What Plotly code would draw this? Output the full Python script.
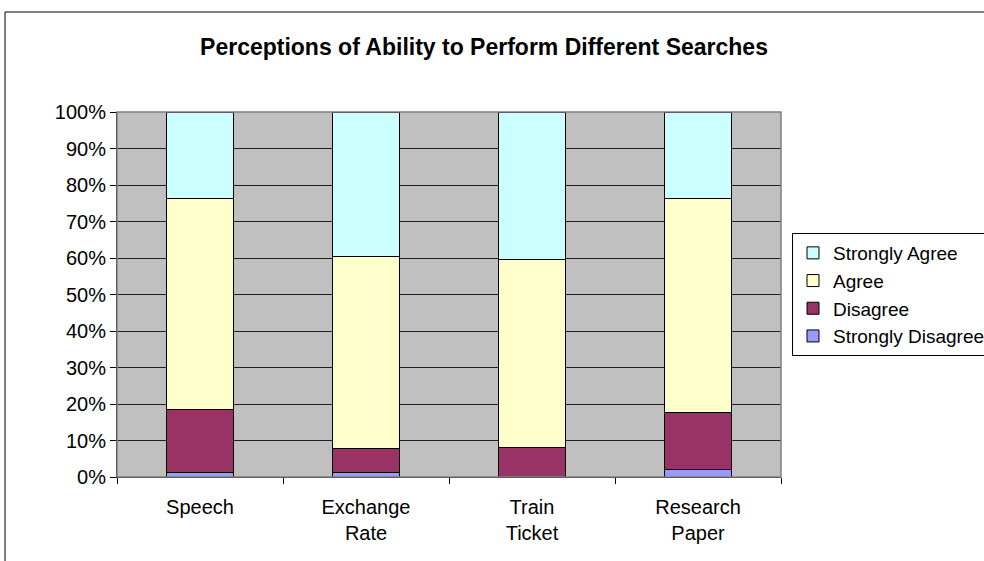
import plotly.graph_objects as go

categories = ["Speech", "Exchange<br>Rate", "Train<br>Ticket", "Research<br>Paper"]
strongly_disagree = [1.2, 1.2, 0.0, 2.1]
disagree = [17.3, 6.7, 8.1, 15.6]
agree = [57.8, 52.6, 51.5, 58.6]
strongly_agree = [23.7, 39.5, 40.4, 23.7]
tick_vals = [0, 10, 20, 30, 40, 50, 60, 70, 80, 90, 100]
tick_text = [f"{v}%" for v in tick_vals]

series = [
    ("Strongly Disagree", strongly_disagree, "#9999FF"),
    ("Disagree", disagree, "#993366"),
    ("Agree", agree, "#FFFFCC"),
    ("Strongly Agree", strongly_agree, "#CCFFFF"),
]

FONT = "Arial, Liberation Sans, sans-serif"
fig = go.Figure()
for name, vals, color in series:
    fig.add_trace(go.Bar(
        x=categories, y=vals, name=name,
        marker=dict(color=color, line=dict(color="black", width=1)),
    ))

W, H = 984, 561
L, R, T, B = 117, 781, 112, 477
pw, ph = R - L, B - T

fig.update_layout(
    width=W, height=H,
    barmode="stack", bargap=0.595,
    plot_bgcolor="#C0C0C0", paper_bgcolor="white",
    margin=dict(l=L, r=W - R, t=T, b=H - B, autoexpand=False),
    font=dict(family=FONT, size=20, color="black"),
    title=dict(text="<b>Perceptions of Ability to Perform Different Searches</b>",
               x=(484 - L) / pw, xref="paper", xanchor="center",
               y=1 - 47 / H, yanchor="middle",
               font=dict(family=FONT, size=23, color="black")),
    legend=dict(traceorder="reversed", x=(792 - L) / pw, xanchor="left",
                y=(B - 233) / ph, yanchor="top",
                bordercolor="black", borderwidth=1, bgcolor="white",
                font=dict(family=FONT, size=19), itemwidth=30,
                tracegroupgap=0),
    xaxis=dict(showline=True, linecolor="black", linewidth=1,
               ticks="outside", ticklen=6, tickcolor="black",
               tickson="boundaries", showgrid=False,
               ticklabelstandoff=12, automargin=False,
               tickfont=dict(family=FONT, size=20)),
    yaxis=dict(range=[0, 100], tickvals=tick_vals, ticktext=tick_text,
               showline=True, linecolor="black", linewidth=1,
               ticks="outside", ticklen=6, tickcolor="black",
               showgrid=True, gridcolor="#202020", gridwidth=1,
               zeroline=False, automargin=False,
               tickfont=dict(family=FONT, size=20)),
    shapes=[
        dict(type="rect", xref="paper", yref="paper",
             x0=(5 - L) / pw, x1=(W + 20 - L) / pw,
             y0=(B - (H + 20)) / ph, y1=(B - 12) / ph,
             line=dict(color="black", width=1), fillcolor="rgba(0,0,0,0)",
             layer="below"),
        dict(type="rect", xref="paper", yref="paper", x0=0, x1=1, y0=0, y1=1,
             line=dict(color="#808080", width=1.5), fillcolor="rgba(0,0,0,0)",
             layer="above"),
    ],
)

fig.write_html("out.html", config={"displayModeBar": False},
               post_script="document.body.style.margin='0px';")
